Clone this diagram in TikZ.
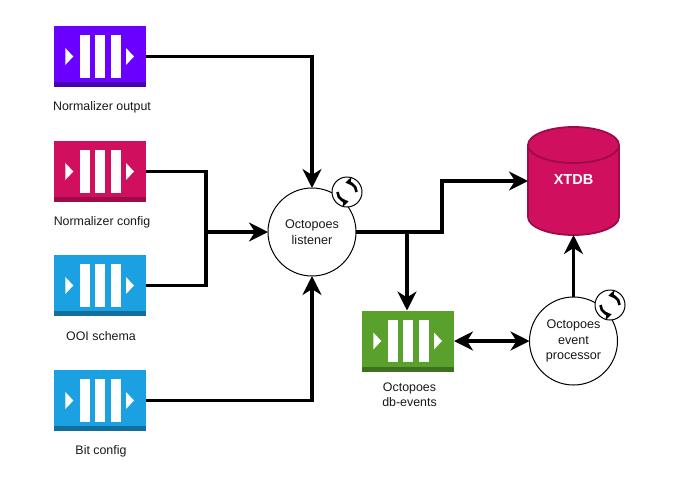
\documentclass[tikz,border=0pt]{standalone}
\usepackage{fontspec}
\setmainfont{Liberation Sans}
\usetikzlibrary{arrows.meta,calc}
\definecolor{cpurple}{HTML}{6A00FF}
\definecolor{dpurple}{HTML}{4A00B4}
\definecolor{cpink}{HTML}{D0105F}
\definecolor{dpink}{HTML}{9E0B48}
\definecolor{cblue}{HTML}{1BA1E2}
\definecolor{dblue}{HTML}{126E9C}
\definecolor{cgreen}{HTML}{5AA02C}
\definecolor{dgreen}{HTML}{3F701F}
\tikzset{
  x=1pt,y=-1pt,
  queuebox/.style={rectangle,inner sep=0pt,outer sep=0pt,minimum width=92pt,minimum height=61pt,fill=#1},
  qlabel/.style={font=\fontsize{12.4}{15}\selectfont,align=center,inner sep=0pt,text=black!90},
  round node/.style={circle,draw=black,line width=1pt,fill=white,inner sep=0pt,outer sep=0pt,minimum size=#1,font=\fontsize{12.6}{15.5}\selectfont,align=center,text=black!90},
  tipbig/.tip={Stealth[length=19pt,width=19pt,inset=6pt]},
  conn/.style={line width=3.5pt,-tipbig},
  connplain/.style={line width=3.5pt},
  conndouble/.style={line width=3.5pt,tipbig-tipbig},
  syncarc/.style={line width=2.6pt,-{Stealth[length=7pt,width=9pt,inset=1.5pt]}},
}
% name, centre x, centre y, fill, dark colour
\newcommand{\queuenode}[5]{%
  \node[queuebox=#4] (#1) at (#2,#3) {};
  \fill[#5] ($(#1.south west)+(0,-5)$) rectangle (#1.south east);
  \foreach \dx in {-15.5,0,15.5}
    \fill[white] ($(#2,#3)+(\dx-5,-21.3)$) rectangle ($(#2,#3)+(\dx+5,21.3)$);
  \fill[white] ($(#2,#3)+(-34.7,-8.5)$) -- ($(#2,#3)+(-26.7,0)$) -- ($(#2,#3)+(-34.7,8.5)$) -- cycle;
  \fill[white] ($(#2,#3)+(26,-8.5)$) -- ($(#2,#3)+(34,0)$) -- ($(#2,#3)+(26,8.5)$) -- cycle;
}
% name, centre x, centre y
\newcommand{\syncnode}[3]{%
  \node[round node=30pt] (#1) at (#2,#3) {};
  \draw[syncarc] ($(#2,#3)+(9.5,0)$) arc[start angle=0,end angle=100,radius=9.5pt];
  \draw[syncarc] ($(#2,#3)+(-9.5,0)$) arc[start angle=180,end angle=280,radius=9.5pt];
}
\begin{document}
\begin{tikzpicture}
\useasboundingbox[fill=white] (0,0) rectangle (674,480);
% queues
\queuenode{qa}{100}{56.5}{cpurple}{dpurple}
\queuenode{qb}{100}{171.5}{cpink}{dpink}
\queuenode{qc}{100}{285.5}{cblue}{dblue}
\queuenode{qd}{100}{400.5}{cblue}{dblue}
\queuenode{qe}{408}{341}{cgreen}{dgreen}
% labels
\node[qlabel] (la) at (102,107) {Normalizer output};
\node[qlabel] (lb) at (102,222) {Normalizer config};
\node[qlabel] (lc) at (101,336) {OOI schema};
\node[qlabel] (ld) at (101,451) {Bit config};
\node[qlabel] (le) at (409.5,395) {Octopoes\\db-events};
% cylinder
\node[rectangle,minimum width=91pt,minimum height=108pt,inner sep=0pt,outer sep=0pt] (xtdb) at (573.5,181) {};
\filldraw[cpink,draw=dpink,line width=1.8pt]
  ($(xtdb.north west)+(0,18)$) arc[start angle=180,end angle=0,x radius=45.5pt,y radius=18pt]
  -- ($(xtdb.south east)+(0,-18)$) arc[start angle=360,end angle=180,x radius=45.5pt,y radius=18pt] -- cycle;
\draw[dpink,line width=1.8pt] ($(xtdb.north west)+(0,18)$) arc[start angle=180,end angle=360,x radius=45.5pt,y radius=18pt];
\node[font=\fontsize{14.5}{16}\selectfont\bfseries,text=white,inner sep=0pt] (xt) at (573.5,180) {XTDB};
% round nodes
\node[round node=88pt] (lis) at (312,232) {Octopoes\\listener};
\node[round node=88pt] (proc) at (573.5,341) {Octopoes\\event\\processor};
\syncnode{sa}{347}{192}
\syncnode{sb}{610}{305}
% connectors
\coordinate (j1) at (206,232);
\coordinate (j2) at (407,232);
\coordinate (j3) at (442,232);
\draw[conn] (qa.east) -| (lis.north);
\draw[connplain] (qb.east) -| (j1);
\draw[connplain] (qc.east) -| (j1);
\draw[conn] (j1) -- (lis.west);
\draw[conn] (qd.east) -| (lis.south);
\draw[conn] (lis.east) -- (j3) |- (xtdb.west);
\draw[conn] (j2) -- (j2 |- qe.north);
\draw[conndouble] (qe.east) -- (proc.west);
\draw[conn] (proc.north) -- (proc.north |- xtdb.south);
\end{tikzpicture}
\end{document}
